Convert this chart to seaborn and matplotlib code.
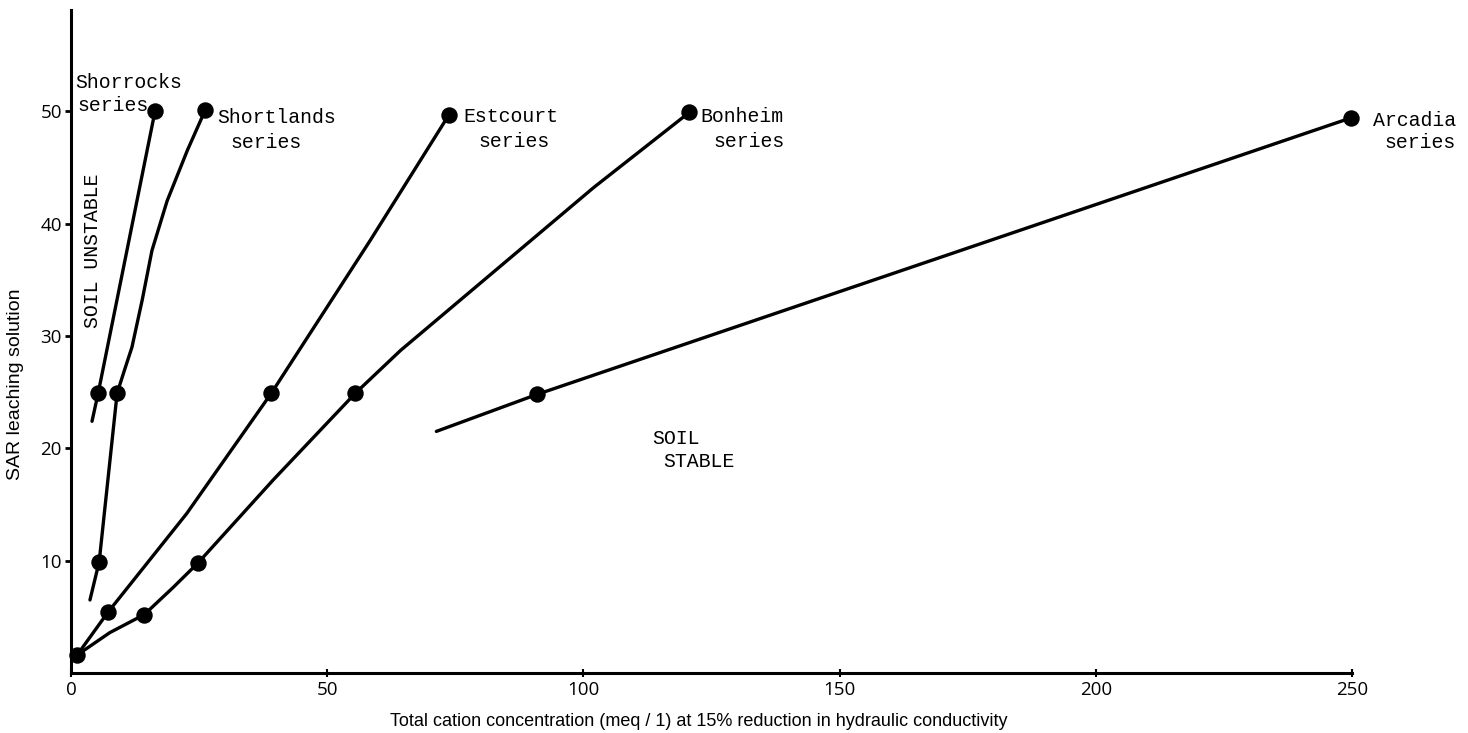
import matplotlib
matplotlib.use("Agg")
import matplotlib.pyplot as plt
import seaborn as sns
import pandas as pd

# ---- data ----
series_names = ["Shorrocks", "Shortlands", "Estcourt", "Bonheim", "Arcadia"]

# hand-drawn curve traces (x: total cation conc., y: SAR)
shorrocks_line_x = [4.1, 5.3, 16.4]
shorrocks_line_y = [22.4, 24.9, 50.0]
shortlands_line_x = [3.7, 5.5, 9.0, 10.4, 11.9, 13.9, 15.8, 18.75, 22.7, 26.2]
shortlands_line_y = [6.5, 9.9, 24.9, 26.9, 29.0, 33.2, 37.6, 42.0, 46.5, 50.1]
estcourt_line_x = [1.2, 7.2, 22.6, 39.1, 58.4, 73.8]
estcourt_line_y = [1.6, 5.4, 14.2, 24.9, 38.5, 49.7]
bonheim_line_x = [1.2, 7.6, 14.3, 19.9, 24.8, 39.5, 55.5, 64.3, 102.0, 120.7]
bonheim_line_y = [1.6, 3.6, 5.2, 7.6, 9.8, 17.2, 24.9, 28.7, 43.2, 49.9]
arcadia_line_x = [71.3, 91.0, 249.8]
arcadia_line_y = [21.5, 24.8, 49.4]

# measured points
shorrocks_pts_x = [5.3, 16.4]
shorrocks_pts_y = [24.9, 50.0]
shortlands_pts_x = [5.5, 9.0, 26.2]
shortlands_pts_y = [9.9, 24.9, 50.1]
estcourt_pts_x = [1.2, 7.2, 39.1, 73.8]
estcourt_pts_y = [1.6, 5.4, 24.9, 49.7]
bonheim_pts_x = [14.3, 24.8, 55.5, 120.7]
bonheim_pts_y = [5.2, 9.8, 24.9, 49.9]
arcadia_pts_x = [91.0, 249.8]
arcadia_pts_y = [24.8, 49.4]

x_ticks = [0, 50, 100, 150, 200, 250]
y_ticks = [10, 20, 30, 40, 50]

# ---- build tables ----
line_sets = [
    (shorrocks_line_x, shorrocks_line_y),
    (shortlands_line_x, shortlands_line_y),
    (estcourt_line_x, estcourt_line_y),
    (bonheim_line_x, bonheim_line_y),
    (arcadia_line_x, arcadia_line_y),
]
pt_sets = [
    (shorrocks_pts_x, shorrocks_pts_y),
    (shortlands_pts_x, shortlands_pts_y),
    (estcourt_pts_x, estcourt_pts_y),
    (bonheim_pts_x, bonheim_pts_y),
    (arcadia_pts_x, arcadia_pts_y),
]
lines_df = pd.concat(
    [pd.DataFrame({"series": n, "x": lx, "y": ly})
     for n, (lx, ly) in zip(series_names, line_sets)],
    ignore_index=True)
pts_df = pd.concat(
    [pd.DataFrame({"series": n, "x": px, "y": py})
     for n, (px, py) in zip(series_names, pt_sets)],
    ignore_index=True)

# ---- style ----
sns.set_theme(style="ticks")
plt.rcParams["font.family"] = ["Liberation Sans", "DejaVu Sans"]

fig = plt.figure(figsize=(14.68, 7.33), dpi=100)
ax = fig.add_axes([71 / 1468, 60 / 733, 1281 / 1468, 663 / 733])

sns.lineplot(data=lines_df, x="x", y="y", units="series", estimator=None,
             sort=False, color="black", linewidth=2.4, ax=ax, legend=False)
sns.scatterplot(data=pts_df, x="x", y="y", color="black", s=140,
                linewidth=0, ax=ax, legend=False, zorder=3, clip_on=False)

ax.set_xlim(0, 250)
ax.set_ylim(0, 59)
sns.despine(ax=ax)
for sp in ("left", "bottom"):
    ax.spines[sp].set_linewidth(2.2)
    ax.spines[sp].set_color("black")

ax.set_xticks(x_ticks)
ax.set_yticks(y_ticks)
ax.set_xticklabels([str(v) for v in x_ticks])
ax.set_yticklabels([str(v) for v in y_ticks])
for lab in ax.get_xticklabels() + ax.get_yticklabels():
    lab.set_fontfamily(["Open Sans", "DejaVu Sans"])
    lab.set_fontsize(13.5)
    lab.set_color("black")
ax.tick_params(axis="y", direction="out", length=4.5, width=2, pad=2, colors="black")
ax.tick_params(axis="x", direction="inout", length=6, width=1.5, pad=3, colors="black")

ax.set_xlabel("Total cation concentration (meq / 1) at 15% reduction in hydraulic conductivity",
              fontsize=13, color="black")
ax.set_ylabel("SAR leaching solution", fontsize=14, color="black")
ax.xaxis.set_label_coords(0.490, -0.060)
ax.yaxis.set_label_coords(-0.0367, 0.436)

mono = ["Liberation Mono", "DejaVu Sans Mono"]
tk = dict(family=mono, fontsize=14.3, color="black", va="baseline", ha="left",
          clip_on=False)
labels = [
    ("Shorrocks", 0.78, 52.1), ("series", 1.17, 50.0),
    ("Shortlands", 28.5, 48.9), ("series", 31.05, 46.76),
    ("Estcourt", 76.6, 49.0), ("series", 79.5, 46.8),
    ("Bonheim", 122.9, 49.0), ("series", 125.4, 46.8),
    ("Arcadia", 254.1, 48.7), ("series", 256.25, 46.7),
    ("SOIL", 113.5, 20.4), ("STABLE", 115.6, 18.3),
]
for t, x, y in labels:
    ax.text(x, y, t, **tk)
ax.text(4.1, 37.6, "SOIL UNSTABLE", family=mono, fontsize=14.3, color="black",
        rotation=90, ha="center", va="center")

fig.savefig("out.png", dpi=100)
